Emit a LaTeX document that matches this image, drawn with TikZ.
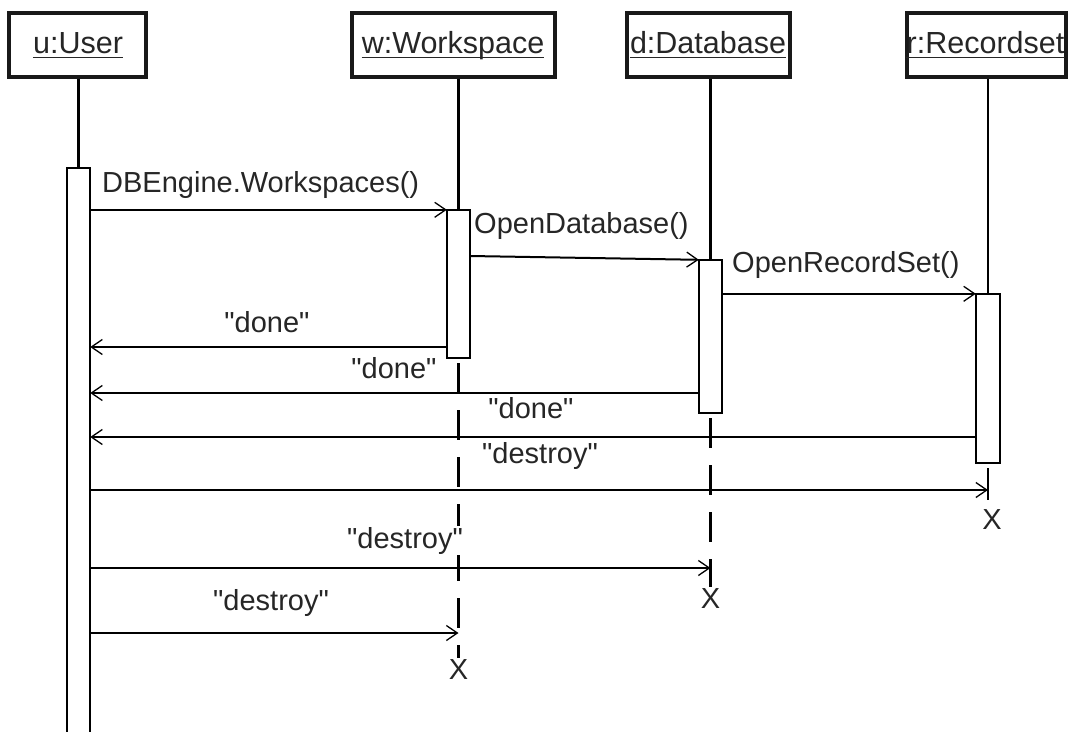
\documentclass[tikz,border=0pt]{standalone}
\usepackage{fontspec}
\setmainfont{Liberation Sans}[Ligatures=TeXOff]
\usetikzlibrary{arrows.meta}
\begin{document}
\begin{tikzpicture}[x=1pt,y=-1pt,
  every node/.style={font=\fontsize{29}{34}\selectfont, text=black!85, inner sep=0pt},
  headbox/.style={draw=black!90, line width=3.2pt, minimum height=64pt},
  headtext/.style={anchor=base, font=\fontsize{30.5}{36}\selectfont},
  actbox/.style={draw=black, line width=1.5pt, fill=white, minimum width=23pt},
  life/.style={draw=black, line width=2.5pt},
  lifedash/.style={life, dash pattern=on 30pt off 17pt},
  msg/.style={draw=black, line width=2pt,
    -{Straight Barb[length=11pt,width=15pt,line width=1.3pt]}},
  lbl/.style={fill=white, inner sep=1pt},
  uline/.style={draw=black!85, line width=1.5pt},
  endmark/.style={font=\fontsize{29}{34}\selectfont}
]
\useasboundingbox (0,0) rectangle (1068,731);
\clip (0,0) rectangle (1068,731);

% object headers
\node[headbox, minimum width=137pt] (u) at (77.5,45) {};
\node[headbox, minimum width=203pt] (w) at (453.5,45) {};
\node[headbox, minimum width=163pt] (d) at (708.5,45) {};
\node[headbox, minimum width=159pt] (r) at (986.5,45) {};
\node[headtext] (ut) at (78,53) {u:User};
\node[headtext] (wt) at (453,53) {w:Workspace};
\node[headtext] (dt) at (708,53) {d:Database};
\node[headtext] (rt) at (985.5,53) {r:Recordset};
\foreach \t in {ut,wt,dt,rt}
  \draw[uline] ([yshift=-4.5pt]\t.base west) -- ([yshift=-4.5pt]\t.base east);

% activation bars (geometry only, drawn later on top of the lifelines)
\path
  node[minimum width=23pt, minimum height=577pt] (ua) at (78.5,456.5) {}
  node[minimum width=23pt, minimum height=148pt] (wa) at (458.5,284) {}
  node[minimum width=23pt, minimum height=153pt] (da) at (710.5,336.5) {}
  node[minimum width=24pt, minimum height=169pt] (ra) at (988,378.5) {};

% destruction marks
\node[endmark] (xw) at (458.5,670) {X};
\node[endmark] (xd) at (710.5,599) {X};
\node[endmark] (xr) at (992,520) {X};

% lifelines
\draw[life] (ua |- u.south) -- (ua.north);
\draw[life] (wa |- w.south) -- (wa.north);
\draw[life] (da |- d.south) -- (da.north);
\draw[life] (ra |- r.south) -- (ra.north);
\draw[lifedash] ([yshift=-5pt]wa.south) -- ([yshift=2pt]xw.north);
\draw[lifedash] ([yshift=-5pt]da.south) -- ([yshift=2pt]xd.north);
\draw[lifedash, dash pattern=on 32pt off 10pt] ([yshift=-5pt]ra.south) -- ([yshift=2pt]xr.north -| ra);

% message labels
\node[lbl, anchor=base west] (l1) at (101,192) {DBEngine.Workspaces()};
\node[lbl, anchor=base west] (l2) at (473,233) {OpenDatabase()};
\node[lbl, anchor=base west] (l3) at (731,272) {OpenRecordSet()};
\node[lbl, anchor=base] (l4) at (267,332) {"done"};
\node[lbl, anchor=base] (l5) at (394,378) {"done"};
\node[lbl, anchor=base] (l6) at (531,418) {"done"};
\node[lbl, anchor=base] (l7) at (540,463) {"destroy"};
\node[lbl, anchor=base] (l8) at (405,548) {"destroy"};
\node[lbl, anchor=base] (l9) at (271,610) {"destroy"};

% activation bars
\foreach \a in {ua,wa,da,ra}
  \draw[actbox] (\a.south west) rectangle (\a.north east);

% calls
\draw[msg] (ua.east |- wa.north) -- (wa.north west);
\draw[msg] (wa.east |- 0,256) -- (da.north west);
\draw[msg] (da.east |- ra.north) -- (ra.north west);

% returns
\draw[msg] (wa.west |- 0,347) -- (ua.east |- 0,347);
\draw[msg] (da.west |- 0,393) -- (ua.east |- 0,393);
\draw[msg] (ra.west |- 0,437) -- (ua.east |- 0,437);

% destroy messages
\draw[msg] (ua.east |- 0,490) -- (ra |- 0,490);
\draw[msg] (ua.east |- 0,568) -- (da |- 0,568);
\draw[msg] (ua.east |- 0,633) -- (wa |- 0,633);
\end{tikzpicture}
\end{document}
